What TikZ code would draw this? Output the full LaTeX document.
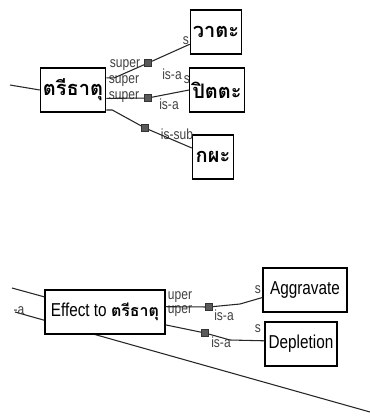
\documentclass[tikz,border=0pt]{standalone}
\usepackage{fontspec}
\setmainfont{Liberation Sans}
\newfontfamily\narrowfont[FakeStretch=0.82]{Liberation Sans}
\newfontfamily\thaifont[Script=Thai]{Loma}
\usetikzlibrary{positioning}

\begin{document}
\begin{tikzpicture}[x=0.75pt,y=-0.75pt]
    % Styles
    \tikzset{
        concept_box/.style={
            draw=black,
            fill=white,
            thick,
            minimum height=33pt,
            inner sep=2pt,
            font=\fontsize{15}{17}\thaifont\bfseries
        },
        effect_box/.style={
            concept_box,
            font=\fontsize{14}{16}\narrowfont
        },
        link_dot/.style={
            draw=black!80, fill=black!65,
            minimum size=5.5pt, inner sep=0pt
        },
        link_label/.style={
            text=black!75, inner sep=0pt,
            font=\fontsize{11}{12}\narrowfont
        },
        link_line/.style={draw=black!85, thick}
    }
    \useasboundingbox (0,0) rectangle (370,417);

    % Upper graph
    \coordinate (top_in) at (10,85);
    \node[concept_box, minimum width=42pt] (tridhatu) at (73,90) {ตรีธาตุ};
    \node[concept_box, minimum width=36pt] (vata) at (216,32) {วาตะ};
    \node[concept_box, minimum width=38pt] (pitta) at (217,90) {ปิตตะ};
    \node[concept_box, minimum width=31pt] (kapha) at (213,157) {กผะ};

    \draw[link_line] (top_in) -- (tridhatu.west);

    \node[link_label] (super1) at (125,65) {super};
    \node[link_label] (super2) at (124,81) {super};
    \node[link_label] (super3) at (124,97) {super};
    \node[link_label] (isa1) at (172,74) {is-a};
    \node[link_label] (isa2) at (169,104) {is-a};
    \node[link_label] (issub) at (177,134) {is-sub};
    \node[link_label] (s1) at (186,41) {s};
    \node[link_label] (s2) at (187,80) {s};

    \node[link_dot] (dot_vata) at (148,63) {};
    \node[link_dot] (dot_pitta) at (148,98) {};
    \node[link_dot] (dot_kapha) at (145,128) {};

    \draw[link_line] (tridhatu.20) -- ++(8,0) -- (dot_vata) -- (vata.205);
    \draw[link_line] (tridhatu.-14) -- ++(8,0) -- (dot_pitta) -- (pitta.west);
    \draw[link_line] (tridhatu.-31) -- ++(6,0) -- (dot_kapha) -- (kapha.157);

    % Lower graph
    \coordinate (cut_a) at (12,288);
    \coordinate (cut_b) at (15,312);
    \coordinate (cut_c) at (370,412);
    \draw[link_line] (cut_b) -- (cut_c);
    \node[link_label] (minus_a) at (19,311) {-a};

    \node[link_label] (uper1) at (180,297) {uper};
    \node[link_label] (uper2) at (180,311) {uper};

    \node[effect_box, minimum width=90pt] (effect) at (105,312) {Effect to {\thaifont\bfseries\fontsize{12}{14}\selectfont ตรีธาตุ}};
    \node[effect_box, minimum width=63pt] (aggravate) at (305,290) {Aggravate};
    \node[effect_box, minimum width=54pt] (depletion) at (301,344) {Depletion};

    \draw[link_line] (cut_a) -- (effect.166);

    \node[link_dot] (dot_aggr) at (209,307) {};
    \node[link_dot] (dot_depl) at (205,333) {};
    \node[link_label] (isa3) at (224,315) {is-a};
    \node[link_label] (isa4) at (221,342) {is-a};
    \node[link_label] (s3) at (258,290) {s};
    \node[link_label] (s4) at (258,329) {s};

    \draw[link_line] (effect.5) -- (dot_aggr) -- (240,304) -- (aggravate.190);
    \draw[link_line] (effect.-12) -- (dot_depl) -- (230,340) -- (depletion.175);

\end{tikzpicture}
\end{document}
